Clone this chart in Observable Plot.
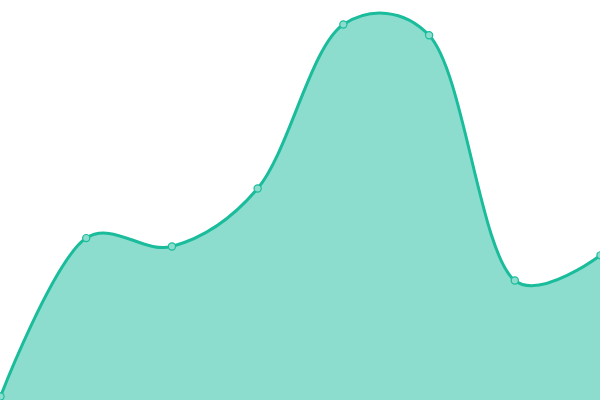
<!DOCTYPE html>
<html>
<head>
<meta charset="utf-8">
<script src="https://cdn.jsdelivr.net/npm/d3@7"></script>
<script src="https://cdn.jsdelivr.net/npm/@observablehq/plot@0.6"></script>
<style>
html, body { margin: 0; padding: 0; background: #fff; overflow: hidden; }
</style>
</head>
<body>
<div id="chart"></div>
<script>
const indices = [0, 1, 2, 3, 4, 5, 6, 7];
const values = [1, 40.6, 38.5, 53, 94, 91.3, 30, 36.3];

const data = indices.map((i, k) => ({x: i, y: values[k]}));
const curve = d3.curveCatmullRom.alpha(0.3);

const chart = Plot.plot({
  width: 600,
  height: 400,
  margin: 0,
  x: {domain: [0, 7], range: [0, 600], axis: null},
  y: {domain: [0, 100], range: [400, 0], axis: null},
  marks: [
    Plot.areaY(data, {x: "x", y: "y", curve, fill: "#1abc9c", fillOpacity: 0.5}),
    Plot.lineY(data, {x: "x", y: "y", curve, stroke: "#1abc9c", strokeWidth: 3}),
    Plot.dot(data, {x: "x", y: "y", r: 3.6, fill: "#8cddcd", stroke: "#1abc9c", strokeWidth: 1.2})
  ]
});
document.getElementById("chart").appendChild(chart);
</script>
</body>
</html>
